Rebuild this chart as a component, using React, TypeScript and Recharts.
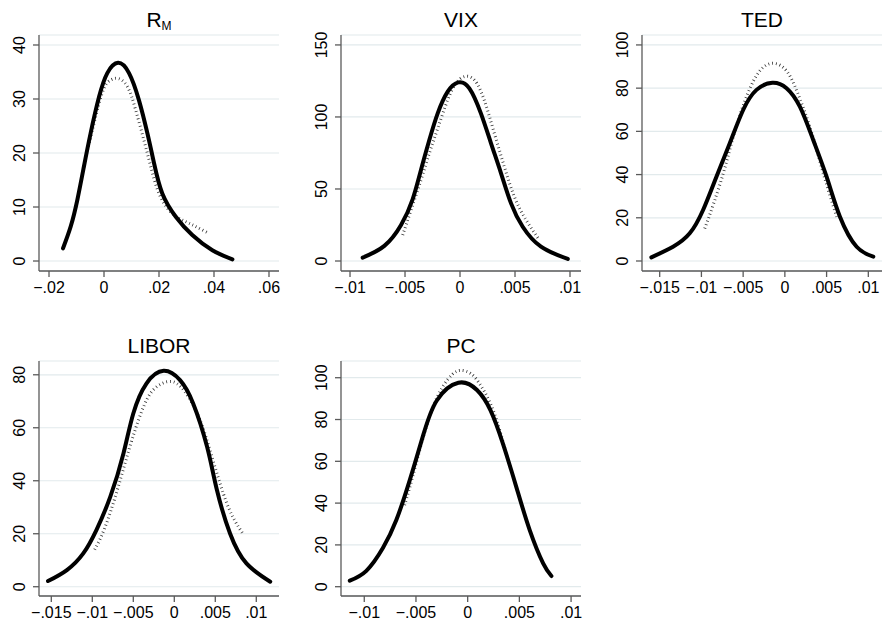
import React from 'react';
import { LineChart, Line, XAxis, YAxis, CartesianGrid } from 'recharts';

// R_M
const rmSolidX = [-0.0149, -0.0121, -0.0097, -0.0073, -0.0049, -0.0018, 0.0012, 0.0051, 0.0091, 0.0127, 0.0158, 0.0182, 0.0212, 0.0261, 0.0321, 0.0394, 0.0467];
const rmSolidY = [2.35, 6.4, 11.3, 17.5, 23.6, 30.4, 34.8, 36.7, 34.8, 29.8, 23.6, 18.1, 12.5, 8.2, 4.8, 2.0, 0.3];
const rmDotX = [-0.006, -0.0042, -0.0024, 0, 0.0024, 0.0051, 0.0085, 0.0115, 0.0145, 0.017, 0.02, 0.0248, 0.0309, 0.0382];
const rmDotY = [20.5, 24.3, 28, 32, 33.5, 33.8, 32.3, 28, 22.4, 17.5, 12.5, 8.8, 7, 5.1];

// VIX
const vixSolidX = [-0.00885, -0.00688, -0.00536, -0.0043, -0.00355, -0.00279, -0.00203, -0.00112, -0.00015, 0.00085, 0.0019, 0.00282, 0.00373, 0.00464, 0.0057, 0.00736, 0.0098];
const vixSolidY = [2.3, 10.5, 25, 43, 63.2, 84, 102.5, 117.6, 124, 119.9, 102.5, 81.7, 60.9, 40, 23.8, 9.95, 1.4];
const vixDotX = [-0.00521, -0.00445, -0.00355, -0.00279, -0.00203, -0.00112, -0.00036, 0.0004, 0.0013, 0.0022, 0.00312, 0.00403, 0.00494, 0.006, 0.00721];
const vixDotY = [18, 35.4, 56.25, 74.8, 92, 111.8, 123.4, 128, 125.7, 111.8, 88.7, 65.5, 44.7, 28.5, 14.6];

// TED
const tedSolidX = [-0.016, -0.0134, -0.0114, -0.0098, -0.0082, -0.0066, -0.005, -0.0034, -0.0015, 0.0002, 0.0018, 0.0034, 0.005, 0.0066, 0.0086, 0.0106];
const tedSolidY = [1.7, 6.6, 12.8, 23.6, 39, 54.5, 69.9, 79.2, 82.5, 80, 71.4, 56, 39, 20.5, 6.6, 2];
const tedDotX = [-0.0096, -0.0085, -0.0072, -0.006, -0.0045, -0.003, -0.0014, 0.0002, 0.0015, 0.003, 0.0045, 0.0062];
const tedDotY = [15, 27, 43, 60, 77, 88, 91.5, 88, 78, 62, 42, 20.5];

// LIBOR
const liborSolidX = [-0.0154, -0.0131, -0.0111, -0.0095, -0.0078, -0.0062, -0.005, -0.0034, -0.0013, 0.0007, 0.0023, 0.004, 0.0052, 0.0068, 0.0088, 0.0117];
const liborSolidY = [2.15, 6.3, 12.6, 21.4, 34, 50.3, 65.4, 76.7, 81.5, 78, 69.2, 52.8, 36.5, 20.1, 8.8, 1.9];
const liborDotX = [-0.0097, -0.0085, -0.007, -0.0055, -0.004, -0.0025, -0.0005, 0.0012, 0.003, 0.0045, 0.006, 0.0072, 0.0084];
const liborDotY = [14, 22, 36, 52, 66, 74.5, 77.5, 74, 64, 50, 35, 26, 19.8];

// PC
const pcSolidX = [-0.0114, -0.0098, -0.0082, -0.0069, -0.0056, -0.0043, -0.003, -0.0009, 0.0009, 0.0022, 0.0034, 0.0047, 0.006, 0.0073, 0.0081];
const pcSolidY = [2.9, 7.6, 18.5, 31.9, 51, 72.5, 89, 97.6, 94.1, 84.5, 68.6, 47.8, 27.1, 11.2, 5.1];
const pcDotX = [-0.0061, -0.0053, -0.0045, -0.0035, -0.0025, -0.0015, -0.0007, 0.0003, 0.0013, 0.0025, 0.0036];
const pcDotY = [39, 53, 68, 84, 95, 101.5, 103.5, 102, 96, 84, 66];

// tick values
const rmXTicks = [-0.02, 0, 0.02, 0.04, 0.06];
const rmYTicks = [0, 10, 20, 30, 40];
const vixXTicks = [-0.01, -0.005, 0, 0.005, 0.01];
const vixYTicks = [0, 50, 100, 150];
const tedXTicks = [-0.015, -0.01, -0.005, 0, 0.005, 0.01];
const tedYTicks = [0, 20, 40, 60, 80, 100];
const liborXTicks = [-0.015, -0.01, -0.005, 0, 0.005, 0.01];
const liborYTicks = [0, 20, 40, 60, 80];
const pcXTicks = [-0.01, -0.005, 0, 0.005, 0.01];
const pcYTicks = [0, 20, 40, 60, 80, 100];

const zip = (xs: number[], ys: number[]) => xs.map((x, i) => ({ x, y: ys[i] }));

const FONT = '"Liberation Sans", Arial, Helvetica, sans-serif';
const GRID = '#e2eaec';
const AXIS = '#5a5a5a';

const fmt = (v: number) => {
  if (v === 0) return '0';
  const s = Math.abs(v).toString().replace(/^0/, '');
  return (v < 0 ? '\u2212' : '') + s;
};

const XTick = ({ x, y, payload }: any) => (
  <text x={x} y={y} dy={14} textAnchor="middle" fontSize={16} fontFamily={FONT} fill="#000">
    {fmt(payload.value)}
  </text>
);

const YTick = ({ x, y, payload }: any) => (
  <text
    x={x - 6}
    y={y}
    textAnchor="middle"
    fontSize={16}
    fontFamily={FONT}
    fill="#000"
    transform={`rotate(-90, ${x - 6}, ${y})`}
  >
    {payload.value}
  </text>
);

interface PanelProps {
  left: number;
  top: number;
  width: number;
  yAxisWidth: number;
  marginTop: number;
  marginRight: number;
  xDomain: [number, number];
  yDomain: [number, number];
  xTicks: number[];
  yTicks: number[];
  solid: { x: number; y: number }[];
  dotted: { x: number; y: number }[];
}

function Panel(p: PanelProps) {
  return (
    <div style={{ position: 'absolute', left: p.left, top: p.top }}>
      <LineChart
        width={p.width}
        height={300}
        margin={{ top: p.marginTop, right: p.marginRight, left: 0, bottom: 0 }}
      >
        <CartesianGrid vertical={false} stroke={GRID} strokeWidth={1.2} />
        <XAxis
          dataKey="x"
          type="number"
          domain={p.xDomain}
          ticks={p.xTicks}
          interval={0}
          allowDataOverflow
          height={29}
          tickSize={6}
          tick={<XTick />}
          axisLine={{ stroke: AXIS, strokeWidth: 1.3 }}
          tickLine={{ stroke: AXIS, strokeWidth: 1.3 }}
        />
        <YAxis
          type="number"
          domain={p.yDomain}
          ticks={p.yTicks}
          interval={0}
          allowDataOverflow
          width={p.yAxisWidth}
          tickSize={6}
          tick={<YTick />}
          axisLine={{ stroke: AXIS, strokeWidth: 1.3 }}
          tickLine={{ stroke: AXIS, strokeWidth: 1.3 }}
        />
        <Line
          data={p.dotted}
          dataKey="y"
          type="natural"
          stroke="#333"
          strokeWidth={3}
          strokeDasharray="0.8 3"
          dot={false}
          activeDot={false}
          isAnimationActive={false}
        />
        <Line
          data={p.solid}
          dataKey="y"
          type="natural"
          stroke="#000"
          strokeWidth={4}
          strokeLinecap="round"
          dot={false}
          activeDot={false}
          isAnimationActive={false}
        />
      </LineChart>
    </div>
  );
}

export default function App() {
  return (
    <div style={{ position: 'absolute', left: 0, top: 0, width: 882, height: 625, background: '#fff', overflow: 'hidden' }}>
      <Panel left={0} top={0} width={290} yAxisWidth={39} marginTop={35} marginRight={11}
        xDomain={[-0.02364, 0.06364]} yDomain={[-1.85, 41.85]} xTicks={rmXTicks} yTicks={rmYTicks}
        solid={zip(rmSolidX, rmSolidY)} dotted={zip(rmDotX, rmDotY)} />
      <Panel left={290} top={0} width={300} yAxisWidth={51} marginTop={35} marginRight={9}
        xDomain={[-0.01082, 0.011]} yDomain={[-6.94, 156.9]} xTicks={vixXTicks} yTicks={vixYTicks}
        solid={zip(vixSolidX, vixSolidY)} dotted={zip(vixDotX, vixDotY)} />
      <Panel left={580} top={0} width={302} yAxisWidth={62} marginTop={35} marginRight={0}
        xDomain={[-0.01712, 0.01164]} yDomain={[-4.63, 104.6]} xTicks={tedXTicks} yTicks={tedYTicks}
        solid={zip(tedSolidX, tedSolidY)} dotted={zip(tedDotX, tedDotY)} />
      <Panel left={0} top={325} width={290} yAxisWidth={39} marginTop={36} marginRight={11}
        xDomain={[-0.0165, 0.01277]} yDomain={[-3.5, 85.2]} xTicks={liborXTicks} yTicks={liborYTicks}
        solid={zip(liborSolidX, liborSolidY)} dotted={zip(liborDotX, liborDotY)} />
      <Panel left={290} top={325} width={300} yAxisWidth={51} marginTop={36} marginRight={9}
        xDomain={[-0.01225, 0.01096]} yDomain={[-4.45, 108]} xTicks={pcXTicks} yTicks={pcYTicks}
        solid={zip(pcSolidX, pcSolidY)} dotted={zip(pcDotX, pcDotY)} />
      <svg width={882} height={625} style={{ position: 'absolute', left: 0, top: 0, pointerEvents: 'none' }}>
        <g fontFamily={FONT} fontSize={21} fill="#000" textAnchor="middle">
          <text x={159} y={26.5}>
            R<tspan fontSize={12} dy={3}>M</tspan>
          </text>
          <text x={461} y={26.5}>VIX</text>
          <text x={762} y={26.5}>TED</text>
          <text x={159} y={352.5}>LIBOR</text>
          <text x={461} y={352.5}>PC</text>
        </g>
      </svg>
    </div>
  );
}
